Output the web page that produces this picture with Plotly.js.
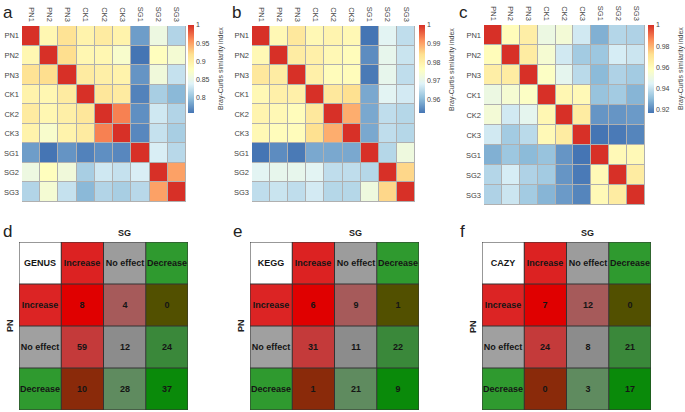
<!DOCTYPE html>
<html>
<head>
<meta charset="utf-8">
<script src="https://cdn.plot.ly/plotly-3.0.1.min.js"></script>
<style>html,body{margin:0;padding:0;background:#fff;}#chart{width:685px;height:412px;}</style>
</head>
<body>
<div id="chart"></div>
<script>
// ---------- data ----------
const samples = ["PN1","PN2","PN3","CK1","CK2","CK3","SG1","SG2","SG3"];

const simA = [
  [1.000,0.890,0.915,0.895,0.905,0.895,0.780,0.855,0.815],
  [0.890,1.000,0.920,0.890,0.890,0.870,0.758,0.880,0.865],
  [0.915,0.920,1.000,0.905,0.900,0.895,0.775,0.860,0.825],
  [0.895,0.890,0.905,1.000,0.910,0.905,0.765,0.810,0.795],
  [0.905,0.890,0.900,0.910,1.000,0.965,0.772,0.830,0.815],
  [0.895,0.870,0.895,0.905,0.965,1.000,0.768,0.825,0.810],
  [0.780,0.758,0.775,0.765,0.772,0.768,1.000,0.835,0.818],
  [0.855,0.880,0.860,0.810,0.830,0.825,0.835,1.000,0.950],
  [0.815,0.865,0.825,0.795,0.815,0.810,0.818,0.950,1.000]
];
const simB = [
  [1.000,0.978,0.982,0.978,0.979,0.978,0.9525,0.969,0.965],
  [0.978,1.000,0.981,0.980,0.978,0.977,0.955,0.970,0.966],
  [0.982,0.981,1.000,0.980,0.977,0.977,0.953,0.970,0.965],
  [0.978,0.980,0.980,1.000,0.982,0.984,0.958,0.969,0.967],
  [0.979,0.978,0.977,0.982,1.000,0.989,0.958,0.965,0.964],
  [0.978,0.977,0.977,0.984,0.989,1.000,0.958,0.965,0.964],
  [0.9525,0.955,0.953,0.958,0.958,0.958,1.000,0.964,0.972],
  [0.969,0.970,0.970,0.969,0.965,0.965,0.964,1.000,0.985],
  [0.965,0.966,0.965,0.967,0.964,0.964,0.972,0.985,1.000]
];
const simC = [
  [1.000,0.960,0.966,0.950,0.953,0.942,0.928,0.937,0.936],
  [0.960,1.000,0.967,0.954,0.942,0.934,0.933,0.943,0.941],
  [0.966,0.967,1.000,0.957,0.947,0.938,0.930,0.936,0.934],
  [0.950,0.954,0.957,1.000,0.962,0.961,0.932,0.934,0.929],
  [0.953,0.942,0.947,0.962,1.000,0.967,0.923,0.923,0.924],
  [0.942,0.934,0.938,0.961,0.967,1.000,0.917,0.918,0.920],
  [0.928,0.933,0.930,0.932,0.923,0.917,1.000,0.961,0.961],
  [0.937,0.943,0.936,0.934,0.923,0.918,0.961,1.000,0.967],
  [0.936,0.941,0.934,0.929,0.924,0.920,0.961,0.967,1.000]
];
const cbTicksA = [0.8,0.85,0.9,0.95,1];
const cbTicksB = [0.96,0.97,0.98,0.99,1];
const cbTicksC = [0.92,0.94,0.96,0.98,1];

const effects = ["Increase","No effect","Decrease"];
const tableNames = ["GENUS","KEGG","CAZY"];
const genusCounts = [[8,4,0],[59,12,24],[10,28,37]];
const keggCounts  = [[6,9,1],[31,11,22],[1,21,9]];
const cazyCounts  = [[7,12,0],[24,8,21],[0,3,17]];

// ---------- styles ----------
const rdylbu = ["#4575B4","#91BFDB","#E0F3F8","#FFFFBF","#FEE090","#FC8D59","#D73027"];
const colorscale = rdylbu.map((c,i)=>[i/(rdylbu.length-1), c]);
const headerColors = ["#ffffff","#dc2222","#9c9c9c","#2f9a2f"];
const labelColors  = ["#dc2424","#a0a0a0","#2f9a2f"];
const cellColors = [
  ["#e00000","#a65a5a","#525000"],
  ["#c43a3a","#8c8c8c","#3a883a"],
  ["#8a2a0a","#5f8b5f","#0a8a0a"]
];
const W = 685, H = 412;
const px = v => v / W;
const py = v => 1 - v / H;
const FONT = "Liberation Sans, Arial, sans-serif";

// panel geometry (pixels)
const heatBoxes = [
  {x0:22,  x1:186, y0:26, y1:202, cb:188},
  {x0:252, x1:415, y0:26, y1:202, cb:419},
  {x0:484, x1:645, y0:25, y1:205, cb:648}
];
const tableBoxes = [
  {x0:19,  x1:188, y0:242, y1:410},
  {x0:250, x1:419, y0:242, y1:410},
  {x0:482, x1:651, y0:242, y1:410}
];

const sims = [simA, simB, simC];
const cbTicks = [cbTicksA, cbTicksB, cbTicksC];
const counts = [genusCounts, keggCounts, cazyCounts];

const traces = [];
const layout = {
  width: W, height: H,
  margin: {l:0, r:0, t:0, b:0},
  paper_bgcolor: "#ffffff",
  plot_bgcolor: "#b0b0b0",
  font: {family: FONT, color: "#333"},
  showlegend: false,
  annotations: [],
  shapes: []
};

// ---------- similarity heatmaps ----------
sims.forEach((m, k) => {
  const b = heatBoxes[k];
  const n = k + 1;
  const xa = n === 1 ? "x" : "x" + n;
  const ya = n === 1 ? "y" : "y" + n;
  let zmin = Infinity, zmax = -Infinity;
  m.forEach(r => r.forEach(v => { zmin = Math.min(zmin, v); zmax = Math.max(zmax, v); }));
  traces.push({
    type: "heatmap", x: samples, y: samples, z: m,
    xaxis: xa, yaxis: ya,
    colorscale: colorscale, zmin: zmin, zmax: zmax,
    xgap: 1, ygap: 1,
    hoverinfo: "skip",
    colorbar: {
      x: px(b.cb), xanchor: "left", xref: "paper",
      y: py(25), yanchor: "top", yref: "paper",
      len: 88, lenmode: "pixels",
      thickness: 6, thicknessmode: "pixels",
      outlinewidth: 0, ticks: "", xpad: 0, ypad: 0,
      tickvals: cbTicks[k], ticktext: cbTicks[k].map(String),
      tickfont: {size: 7, color: "#444", family: FONT}
    }
  });
  const axX = {
    domain: [px(b.x0), px(b.x1)], anchor: ya, side: "top",
    tickangle: 90, ticks: "", showgrid: false, zeroline: false, showline: false,
    tickfont: {size: 7.5, color: "#444", family: FONT}, fixedrange: true, ticklabelstandoff: 2
  };
  const axY = {
    domain: [py(b.y1), py(b.y0)], anchor: xa, autorange: "reversed",
    ticks: "", showgrid: false, zeroline: false, showline: false,
    tickfont: {size: 7.5, color: "#444", family: FONT}, fixedrange: true, ticklabelstandoff: 2
  };
  layout[n === 1 ? "xaxis" : "xaxis" + n] = axX;
  layout[n === 1 ? "yaxis" : "yaxis" + n] = axY;
  layout.annotations.push({
    text: "Bray-Curtis similarity index", textangle: -90,
    xref: "paper", yref: "paper", x: px(b.cb + 33), y: py(69),
    xanchor: "center", yanchor: "middle", showarrow: false,
    font: {size: 7, color: "#444", family: FONT}
  });
  layout.annotations.push({
    text: ["a","b","c"][k], xref: "paper", yref: "paper",
    x: px([1, 230, 457][k]), y: py(1), xanchor: "left", yanchor: "top",
    showarrow: false, font: {size: 17, color: "#222", family: FONT}
  });
});

// ---------- effect tables ----------
counts.forEach((c, k) => {
  const b = tableBoxes[k];
  const n = k + 4;
  const xa = "x" + n, ya = "y" + n;
  const palette = [];
  const z = [], txt = [];
  const header = [tableNames[k]].concat(effects);
  z.push(header.map((_, j) => { palette.push(headerColors[j]); return palette.length - 1; }));
  txt.push(header);
  effects.forEach((lab, i) => {
    const zr = [], tr = [];
    palette.push(labelColors[i]); zr.push(palette.length - 1); tr.push(lab);
    c[i].forEach((v, j) => { palette.push(cellColors[i][j]); zr.push(palette.length - 1); tr.push(String(v)); });
    z.push(zr); txt.push(tr);
  });
  const np = palette.length;
  const cs = [];
  palette.forEach((col, i) => { cs.push([i / np, col]); cs.push([(i + 1) / np, col]); });
  const idx = [0,1,2,3];
  traces.push({
    type: "heatmap", x: idx, y: idx, z: z.map(r => r.map(v => v + 0.5)),
    xaxis: xa, yaxis: ya, colorscale: cs, zmin: 0, zmax: np, showscale: false,
    text: txt, texttemplate: "<b>%{text}</b>",
    textfont: {size: 9, color: "#151515", family: FONT, weight: "bold"},
    hoverinfo: "skip"
  });
  layout["xaxis" + n] = {domain: [px(b.x0), px(b.x1)], anchor: ya, range: [-0.5, 3.5],
    showticklabels: false, ticks: "", showgrid: false, zeroline: false, showline: false, fixedrange: true};
  layout["yaxis" + n] = {domain: [py(b.y1), py(b.y0)], anchor: xa, range: [3.5, -0.5],
    showticklabels: false, ticks: "", showgrid: false, zeroline: false, showline: false, fixedrange: true};
  for (let g = 0; g <= 4; g++) {
    layout.shapes.push({type: "line", xref: xa, yref: ya, x0: g - 0.5, x1: g - 0.5, y0: -0.5, y1: 3.5,
      line: {color: "#333", width: 1}, layer: "above"});
    layout.shapes.push({type: "line", xref: xa, yref: ya, y0: g - 0.5, y1: g - 0.5, x0: -0.5, x1: 3.5,
      line: {color: "#333", width: 1}, layer: "above"});
  }
  const cx = (b.x0 + b.x1) / 2 + (b.x1 - b.x0) / 8;
  layout.annotations.push({
    text: "<b>SG</b>", xref: "paper", yref: "paper", x: px(cx), y: py(233),
    xanchor: "center", yanchor: "middle", showarrow: false,
    font: {size: 9, color: "#222", family: FONT}
  });
  layout.annotations.push({
    text: "<b>PN</b>", textangle: -90, xref: "paper", yref: "paper",
    x: px(b.x0 - 9), y: py((b.y0 + b.y1) / 2),
    xanchor: "center", yanchor: "middle", showarrow: false,
    font: {size: 9, color: "#222", family: FONT}
  });
  layout.annotations.push({
    text: ["d","e","f"][k], xref: "paper", yref: "paper",
    x: px([1, 231, 458][k]), y: py(220), xanchor: "left", yanchor: "top",
    showarrow: false, font: {size: 17, color: "#222", family: FONT}
  });
});

Plotly.newPlot("chart", traces, layout, {displayModeBar: false, staticPlot: true});
</script>
</body>
</html>
